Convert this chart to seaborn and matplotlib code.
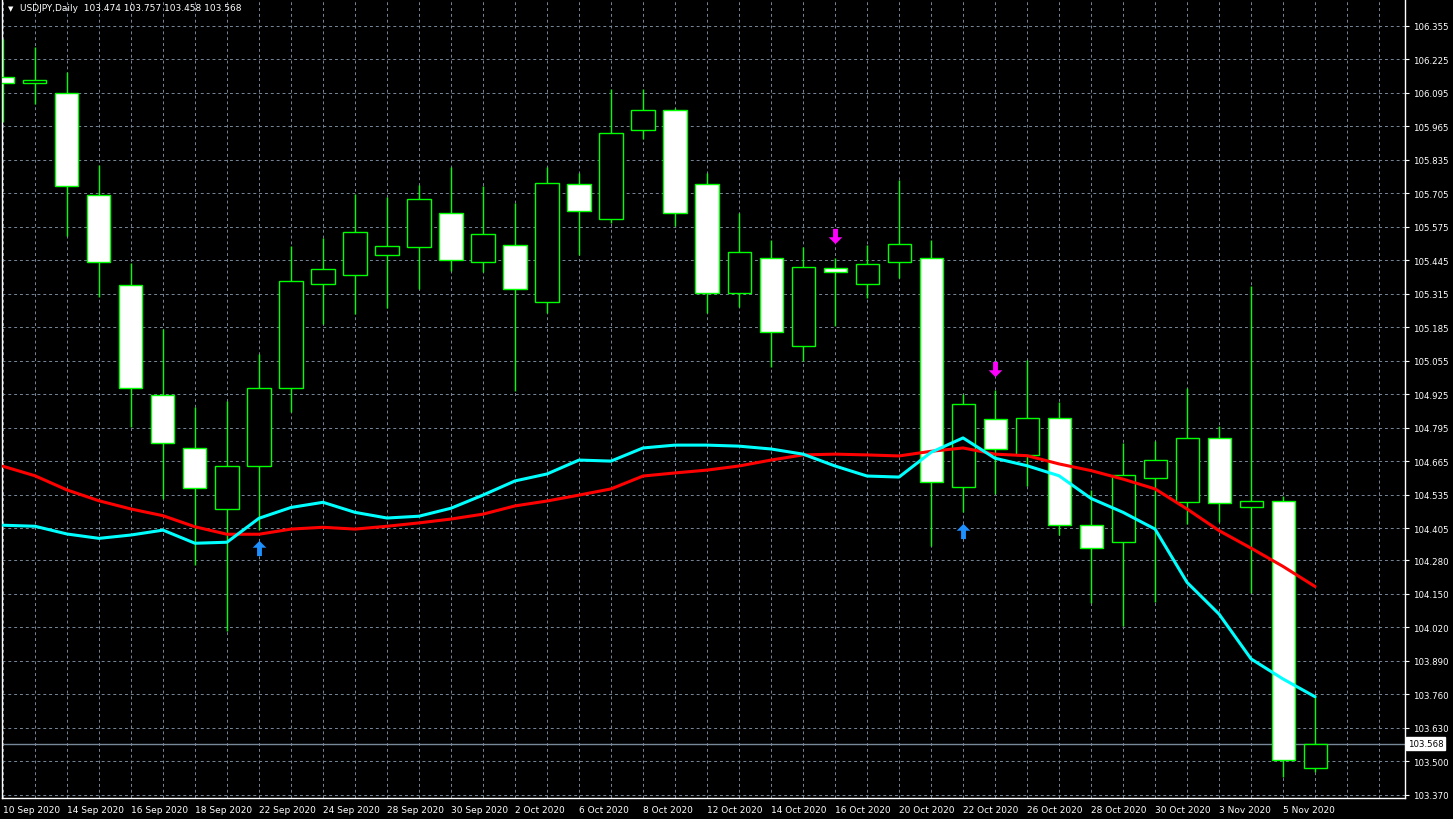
import numpy as np
import pandas as pd
import seaborn as sns
import matplotlib.pyplot as plt
import matplotlib.transforms as mtransforms
from matplotlib.path import Path

# USDJPY daily bars
dates = ["10 Sep 2020", "11 Sep 2020", "14 Sep 2020", "15 Sep 2020", "16 Sep 2020", "17 Sep 2020",
         "18 Sep 2020", "21 Sep 2020", "22 Sep 2020", "23 Sep 2020", "24 Sep 2020", "25 Sep 2020",
         "28 Sep 2020", "29 Sep 2020", "30 Sep 2020", "1 Oct 2020", "2 Oct 2020", "5 Oct 2020",
         "6 Oct 2020", "7 Oct 2020", "8 Oct 2020", "9 Oct 2020", "12 Oct 2020", "13 Oct 2020",
         "14 Oct 2020", "15 Oct 2020", "16 Oct 2020", "19 Oct 2020", "20 Oct 2020", "21 Oct 2020",
         "22 Oct 2020", "23 Oct 2020", "26 Oct 2020", "27 Oct 2020", "28 Oct 2020", "29 Oct 2020",
         "30 Oct 2020", "2 Nov 2020", "3 Nov 2020", "4 Nov 2020", "5 Nov 2020", "6 Nov 2020"]
opens = [106.157, 106.131, 106.096, 105.697, 105.347, 104.920, 104.714, 104.478, 104.647, 104.947,
         105.351, 105.387, 105.466, 105.497, 105.627, 105.439, 105.503, 105.281, 105.742, 105.603,
         105.949, 106.027, 105.739, 105.316, 105.454, 105.110, 105.416, 105.351, 105.437, 105.452,
         104.563, 104.827, 104.687, 104.831, 104.416, 104.351, 104.598, 104.505, 104.753, 104.485,
         104.509, 103.474]
highs = [106.303, 106.271, 106.174, 105.814, 105.434, 105.176, 104.874, 104.897, 105.082, 105.501,
         105.531, 105.702, 105.689, 105.737, 105.805, 105.734, 105.666, 105.805, 105.782, 106.109,
         106.109, 106.037, 105.782, 105.627, 105.523, 105.497, 105.453, 105.504, 105.756, 105.525,
         104.925, 104.942, 105.057, 104.895, 104.554, 104.734, 104.743, 104.947, 104.802, 105.343,
         104.531, 103.757]
lows = [105.980, 106.052, 105.540, 105.301, 104.798, 104.517, 104.261, 104.005, 104.399, 104.855,
        105.197, 105.236, 105.259, 105.333, 105.402, 105.400, 104.936, 105.239, 105.466, 105.588,
        105.915, 105.579, 105.239, 105.262, 105.029, 105.055, 105.190, 105.299, 105.374, 104.334,
        104.468, 104.537, 104.569, 104.378, 104.114, 104.024, 104.119, 104.421, 104.427, 104.152,
        103.440, 103.458]
closes = [106.131, 106.143, 105.732, 105.437, 104.947, 104.734, 104.562, 104.645, 104.947, 105.363,
          105.409, 105.553, 105.499, 105.681, 105.444, 105.545, 105.332, 105.746, 105.635, 105.937,
          106.027, 105.627, 105.316, 105.475, 105.165, 105.417, 105.398, 105.429, 105.506, 104.582,
          104.885, 104.711, 104.831, 104.416, 104.326, 104.610, 104.668, 104.753, 104.501, 104.509,
          103.504, 103.568]
ma_fast = [104.416, 104.412, 104.382, 104.365, 104.378, 104.397, 104.346, 104.350, 104.443, 104.485,
           104.505, 104.466, 104.444, 104.451, 104.482, 104.533, 104.588, 104.615, 104.669, 104.665,
           104.716, 104.727, 104.727, 104.723, 104.712, 104.692, 104.646, 104.607, 104.603, 104.699,
           104.755, 104.676, 104.647, 104.608, 104.520, 104.466, 104.401, 104.194, 104.071, 103.897,
           103.819, 103.750]
ma_slow = [104.645, 104.608, 104.553, 104.511, 104.479, 104.453, 104.410, 104.381, 104.381, 104.401,
           104.408, 104.401, 104.412, 104.425, 104.440, 104.459, 104.491, 104.510, 104.533, 104.557,
           104.607, 104.619, 104.630, 104.646, 104.669, 104.689, 104.692, 104.689, 104.685, 104.703,
           104.716, 104.692, 104.686, 104.654, 104.628, 104.595, 104.557, 104.479, 104.395, 104.327,
           104.256, 104.178]
buy_bars = [8, 30]
buy_prices = [104.326, 104.392]
sell_bars = [26, 31]
sell_prices = [105.538, 105.022]
yticks = [106.355, 106.225, 106.095, 105.965, 105.835, 105.705, 105.575, 105.445, 105.315, 105.185,
          105.055, 104.925, 104.795, 104.665, 104.535, 104.405, 104.280, 104.150, 104.020, 103.890,
          103.760, 103.630, 103.500, 103.370]
last_price = 103.568
header = "USDJPY,Daily  103.474 103.757 103.458 103.568"

df = pd.DataFrame({"date": dates, "open": opens, "high": highs, "low": lows, "close": closes,
                   "fast": ma_fast, "slow": ma_slow})
df["bar"] = np.arange(len(df))
up = df["close"] >= df["open"]

sns.set_style("dark", {"axes.facecolor": "black", "figure.facecolor": "black"})
plt.rcParams["font.family"] = ["DejaVu Sans"]

fig = plt.figure(figsize=(14.53, 8.2), dpi=100)
ax = fig.add_axes([2 / 1453, 21 / 820, 1403 / 1453, 799 / 820])
ax.set_facecolor("black")

grid_kw = dict(color="#778899", lw=0.7, ls=(0, (3, 3)))
ax.set_xticks(np.arange(0, 44), minor=True)
ax.grid(True, which="both", **grid_kw)
ax.set_axisbelow(True)

# wicks
ax.vlines(df["bar"], df["low"], df["high"], color="#00ff00", lw=1, zorder=2)
# bodies: bullish black, bearish white
body_lo = df[["open", "close"]].min(axis=1)
body_h = (df["close"] - df["open"]).abs()
ax.bar(df["bar"], body_h, bottom=body_lo, width=0.72,
       color=np.where(up, "black", "white"), edgecolor="#00ff00", lw=1, zorder=3)

sns.lineplot(data=df, x="bar", y="slow", color="#ff0000", lw=2.2, ax=ax, zorder=4)
sns.lineplot(data=df, x="bar", y="fast", color="#00ffff", lw=2.2, ax=ax, zorder=5)

up_arrow = Path([(0, 1), (-0.9, 0.1), (-0.32, 0.1), (-0.32, -1), (0.32, -1), (0.32, 0.1), (0.9, 0.1), (0, 1)])
dn_arrow = Path([(0, -1), (-0.9, -0.1), (-0.32, -0.1), (-0.32, 1), (0.32, 1), (0.32, -0.1), (0.9, -0.1), (0, -1)])
ax.scatter(buy_bars, buy_prices, marker=up_arrow, s=120, color="#1e90ff", zorder=6, linewidths=0)
ax.scatter(sell_bars, sell_prices, marker=dn_arrow, s=120, color="#ff00ff", zorder=6, linewidths=0)

ax.axhline(last_price, color="#778899", lw=1, zorder=1.5)

ax.set_xlim(-0.03, 43.81)
ax.set_ylim(103.357, 106.459)
ax.set_xlabel("")
ax.set_ylabel("")

ax.set_xticks(df["bar"][::2])
ax.set_xticklabels(df["date"][::2], ha="left", color="white", fontsize=6.5)
ax.tick_params(axis="x", which="major", direction="out", length=3, color="white", pad=2)
ax.tick_params(axis="x", which="minor", length=0)

ax.yaxis.tick_right()
ax.set_yticks(yticks)
ax.set_yticklabels([f"{v:.3f}" for v in yticks], color="white", fontsize=6.2)
ax.tick_params(axis="y", direction="out", length=3, color="white", pad=3)

for s in ax.spines.values():
    s.set_color("white")
    s.set_linewidth(1)
ax.spines["top"].set_visible(False)

trans = mtransforms.blended_transform_factory(ax.transAxes, ax.transData)
ax.text(1.0018, last_price, f"{last_price:.3f}", transform=trans, ha="left", va="center",
        fontsize=6.2, color="black", bbox=dict(boxstyle="square,pad=0.2", fc="white", ec="white"))

ax.text(0.004, 0.989, "\u25bc", transform=ax.transAxes, ha="left", va="center", color="white", fontsize=5)
ax.text(0.0125, 0.989, header, transform=ax.transAxes, ha="left", va="center", color="white", fontsize=6.5)

fig.savefig("out.png", dpi=100, facecolor="black")
